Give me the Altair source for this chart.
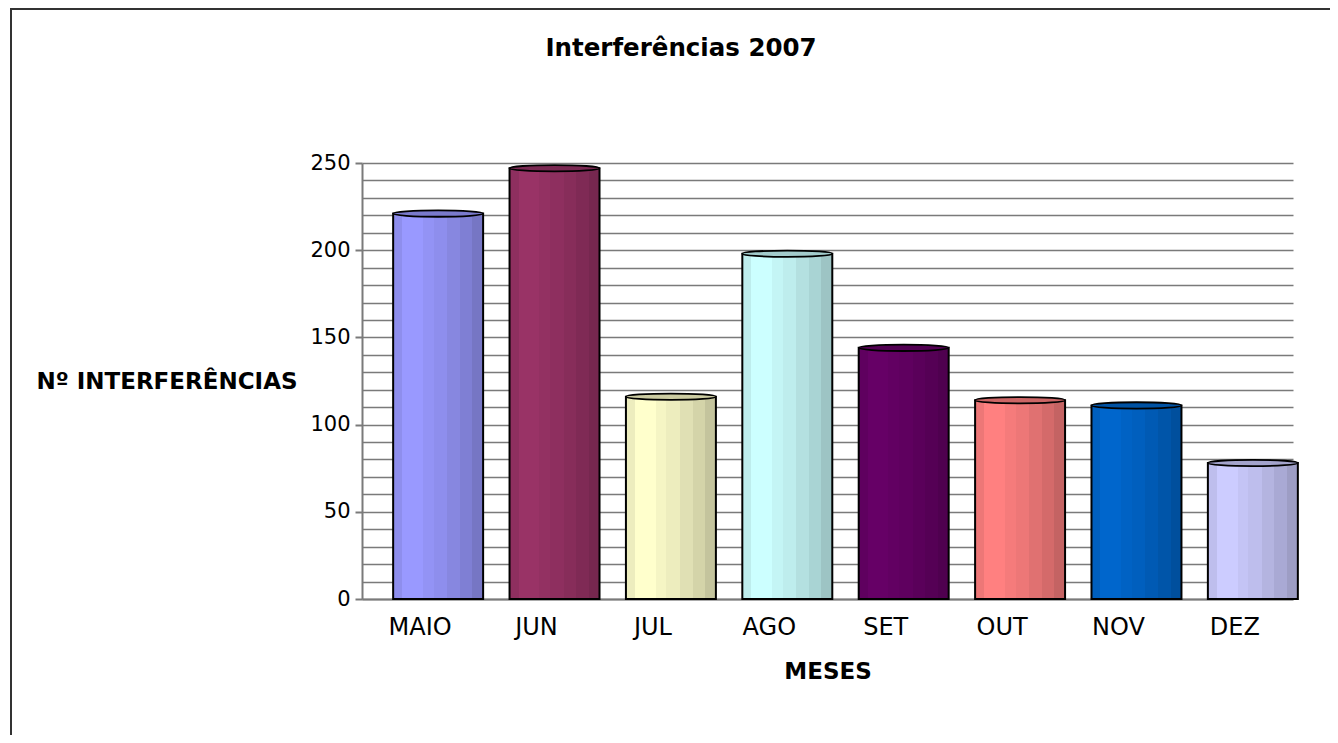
import altair as alt
import pandas as pd

# ---- data ----
TITLE = "Interferências 2007"
Y_TITLE = "Nº INTERFERÊNCIAS"
X_TITLE = "MESES"
months = ["MAIO", "JUN", "JUL", "AGO", "SET", "OUT", "NOV", "DEZ"]
values = [221, 247, 116, 198, 144, 114, 111, 78]
base_colors = ["#9999FF", "#993366", "#FFFFCC", "#CCFFFF",
               "#660066", "#FF8080", "#0066CC", "#CCCCFF"]

FONT = "DejaVu Sans"
W, H = 931, 436
PAD = {"left": 354, "top": 155, "right": 37, "bottom": 136}

df = pd.DataFrame({"month": months, "value": values})


def shade(hex_color, f):
    h = hex_color.lstrip("#")
    r, g, b = (int(h[i:i + 2], 16) for i in (0, 2, 4))
    r, g, b = (max(0, min(255, int(round(c * f)))) for c in (r, g, b))
    return "#{:02x}{:02x}{:02x}".format(r, g, b)


# vertical strips emulating the cylinder shading
strips = [(0.00, 0.93), (0.10, 1.00), (0.33, 0.96), (0.45, 0.93),
          (0.60, 0.88), (0.74, 0.83), (0.88, 0.77), (1.00, None)]


def cylinder_gradient(base):
    stops = []
    for i in range(len(strips) - 1):
        s, f = strips[i]
        e = strips[i + 1][0]
        c = shade(base, f)
        stops.append(alt.GradientStop(offset=s, color=c))
        stops.append(alt.GradientStop(offset=e, color=c))
    return alt.LinearGradient(gradient="linear", stops=stops,
                              x1=0, x2=1, y1=0, y2=0)


x_scale = alt.Scale(domain=months, paddingInner=0.227, paddingOuter=0.113)
y_scale = alt.Scale(domain=[0, 250], nice=False)

y_axis = alt.Axis(
    values=list(range(0, 251, 10)),
    labelExpr="datum.value % 50 === 0 ? datum.label : ''",
    labelOverlap=False,
    grid=True, gridColor="#7a7a7a", gridWidth=1.6,
    domainColor="#7a7a7a", domainWidth=2,
    tickColor="#7a7a7a", tickWidth=2, tickSize=7,
    tickOpacity={"condition": {"test": "datum.value % 50 === 0", "value": 1}, "value": 0},
    labelFont=FONT, labelFontSize=21, labelColor="black", labelPadding=5,
    title=Y_TITLE, titleFont=FONT, titleFontSize=23, titleFontWeight="bold",
    titleColor="black", titleAngle=0, titleAlign="right", titleBaseline="middle",
    titleX=-65, titleY=218,
)
x_axis = alt.Axis(
    labelAngle=0, ticks=False, domainColor="#7a7a7a", domainWidth=2,
    labelFont=FONT, labelFontSize=24, labelColor="black", labelPadding=16,
    title=X_TITLE, titleFont=FONT, titleFontSize=23, titleFontWeight="bold",
    titleColor="black", titleBaseline="middle", titleY=72,
)

X = alt.X("month:N", scale=x_scale, sort=months, axis=x_axis)
Y = alt.Y("value:Q", scale=y_scale, axis=y_axis)

base = alt.Chart(df)

layers = []
for m, c in zip(months, base_colors):
    layers.append(
        base.transform_filter(alt.datum.month == m)
        .mark_bar(color=cylinder_gradient(c), stroke="black", strokeWidth=2, xOffset=18)
        .encode(x=X, y=Y)
    )

ELLIPSE = "M -1 0 A 1 0.07 0 1 1 1 0 A 1 0.07 0 1 1 -1 0 Z"
caps = base.mark_point(shape=ELLIPSE, size=8100, filled=True, opacity=1,
                       stroke="black", strokeWidth=1.8, xOffset=18).encode(
    x=X, y=Y,
    color=alt.Color("month:N", scale=alt.Scale(domain=months,
                    range=[shade(c, 0.8) for c in base_colors]), legend=None),
)

one = pd.DataFrame({"t": [TITLE]})
title = alt.Chart(one).mark_text(font=FONT, fontWeight="bold", fontSize=24.5,
                                 baseline="middle", align="center", color="black").encode(
    x=alt.value(319), y=alt.value(-114), text="t:N")

border_left = alt.Chart(one).mark_rule(color="#333333", strokeWidth=2).encode(
    x=alt.value(-351), y=alt.value(-156), y2=alt.value(H + PAD["bottom"] + 5))
border_top = alt.Chart(one).mark_rule(color="#333333", strokeWidth=2).encode(
    y=alt.value(-154), x=alt.value(-352), x2=alt.value(W + PAD["right"] + 5))

chart = alt.layer(*layers, caps, title, border_left, border_top).properties(
    width=W, height=H, padding=PAD, autosize=alt.AutoSizeParams(type="none"),
    background="white",
).configure_view(stroke=None)

chart.save("out.html", embed_options={"renderer": "svg", "actions": False})
